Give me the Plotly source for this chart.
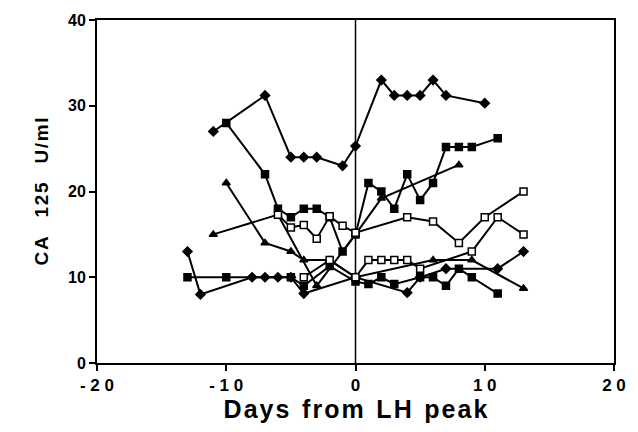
import plotly.graph_objects as go

# ---- data (days from LH peak, CA 125 U/ml) ----
s1_x = [-11, -7, -5, -4, -3, -1, 0, 2, 3, 4, 5, 6, 7, 10]
s1_y = [27, 31.2, 24, 24, 24, 23, 25.3, 33, 31.2, 31.2, 31.2, 33, 31.2, 30.3]

s2_x = [-10, -7, -6, -5, -4, -3, -2, -1, 0, 1, 2, 3, 4, 5, 6, 7, 8, 9, 11]
s2_y = [28, 22, 18, 17, 18, 18, 17, 13, 15, 21, 20, 18, 22, 19, 21, 25.2, 25.2, 25.2, 26.2]

s4_x = [-11, -6, -3, 0, 2, 8]
s4_y = [15, 17.3, 9, 15, 19.2, 23.1]

s5_x = [-10, -7, -5, -4, -2, 0, 6, 9, 13]
s5_y = [21, 14, 13, 12, 12, 10, 12, 12, 8.7]

s6_x = [-13, -12, -8, -7, -6, -5, -4, 0, 4, 5, 7, 11, 13]
s6_y = [13, 8, 10, 10, 10, 10, 8.1, 10, 8.2, 10, 11, 11, 13]

s7_x = [-13, -10, -5, -4, -2, 0, 1, 2, 3, 5, 6, 7, 8, 9, 11]
s7_y = [10, 10, 10, 9, 11.3, 9.5, 9.2, 10, 9.2, 10, 10, 9, 11, 10, 8.1]

s3_x = [-6, -5, -4, -3, -2, -1, 0, 4, 6, 8, 10, 13]
s3_y = [17.3, 15.8, 16.1, 14.5, 17.1, 16, 15.2, 17, 16.5, 14, 17, 20]

s8_x = [-4, -2, 0, 1, 2, 3, 4, 5, 9, 11, 13]
s8_y = [10, 12, 10, 12, 12, 12, 12, 11, 13, 17, 15]

x_ticks = [-20, -10, 0, 10, 20]
x_tick_text = ["- 2 0", "- 1 0", "0", "1 0", "2 0"]
y_ticks = [0, 10, 20, 30, 40]

series = [
    (s6_x, s6_y, "diamond", "black"),
    (s7_x, s7_y, "square", "black"),
    (s5_x, s5_y, "triangle-up", "black"),
    (s4_x, s4_y, "triangle-up", "black"),
    (s2_x, s2_y, "square", "black"),
    (s1_x, s1_y, "diamond", "black"),
    (s8_x, s8_y, "square", "white"),
    (s3_x, s3_y, "square", "white"),
]
sizes = {"diamond": 7, "square": 7, "triangle-up": 7}

fig = go.Figure()
for xs, ys, sym, fill in series:
    fig.add_trace(go.Scatter(
        x=xs, y=ys, mode="lines+markers",
        line=dict(color="black", width=2),
        marker=dict(symbol=sym, size=sizes[sym], color=fill,
                    line=dict(color="black", width=1.5)),
        showlegend=False, hoverinfo="skip",
    ))

fig.add_shape(type="line", x0=0, x1=0, y0=0, y1=40, xref="x", yref="y",
              line=dict(color="black", width=1.5), layer="below")

font_family = "Liberation Sans, Arial, sans-serif"
hs = "\u200a"
x_title = "\u2002".join(hs.join(w) for w in ["Days", "from", "LH", "peak"])
y_title = "\u2003".join(hs.join(w) for w in ["CA", "125", "U/ml"])

fig.update_layout(
    width=638, height=432,
    margin=dict(l=97, r=16, t=17, b=69),
    paper_bgcolor="white", plot_bgcolor="white",
    font=dict(family=font_family, color="black"),
    xaxis=dict(
        range=[-20, 20], tickvals=x_ticks,
        ticktext=["<b>" + t + "</b>" for t in x_tick_text],
        ticks="outside", ticklen=6, tickwidth=2, tickcolor="black",
        showline=True, linecolor="black", linewidth=2, mirror=True,
        showgrid=False, zeroline=False,
        tickfont=dict(size=17, family=font_family),
        title=dict(text="<b>" + x_title + "</b>", font=dict(size=25), standoff=4),
    ),
    yaxis=dict(
        range=[0, 40], tickvals=y_ticks,
        ticktext=["<b>%d</b>" % v for v in y_ticks],
        ticks="outside", ticklen=6, tickwidth=2, tickcolor="black",
        showline=True, linecolor="black", linewidth=2, mirror=True,
        showgrid=False, zeroline=False, ticklabeloverflow="allow",
        tickfont=dict(size=16, family=font_family),
        title=dict(text="<b>" + y_title + "</b>", font=dict(size=19), standoff=14),
    ),
)

fig.write_html(
    "out.html",
    config={"displayModeBar": False, "staticPlot": True},
    post_script="document.body.style.margin='0';document.body.style.overflow='hidden';",
)
